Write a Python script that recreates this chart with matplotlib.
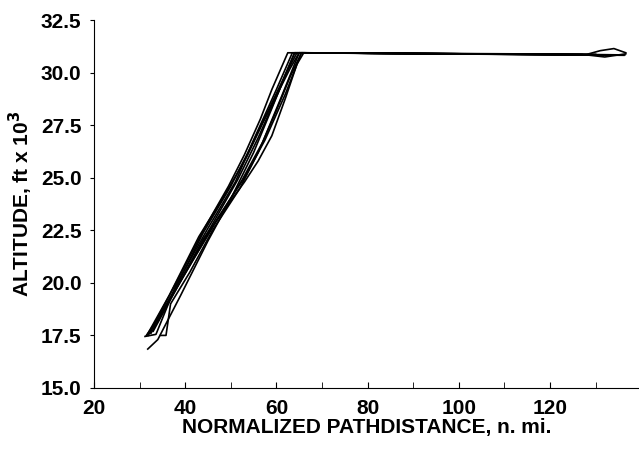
import matplotlib
matplotlib.use("Agg")
import matplotlib.pyplot as plt
from matplotlib.ticker import MultipleLocator

plt.rcParams['font.family'] = ['Liberation Sans', 'DejaVu Sans']
plt.rcParams['font.weight'] = 'bold'

# climb segments of each flight (n. mi., ft x 10^3)
climb_x = [
    [31.2, 33.6, 38.0, 45.0, 51.0, 55.0, 60.0, 63.5],
    [31.5, 35.0, 40.0, 46.0, 51.5, 56.0, 60.5, 64.0],
    [31.8, 34.0, 39.0, 45.0, 50.0, 55.0, 59.0, 62.0, 64.5],
    [34.6, 35.8, 36.8, 41.0, 46.0, 52.0, 56.0, 60.0, 63.0, 65.5],
    [32.0, 36.0, 41.5, 47.0, 52.5, 57.0, 61.0, 65.0],
    [32.5, 37.0, 42.0, 47.5, 53.0, 57.5, 62.0, 65.5],
    [33.0, 38.0, 44.0, 50.0, 53.0, 56.0, 59.0, 62.0, 64.5, 66.0],
    [31.6, 36.5, 43.0, 49.0, 53.5, 57.0, 60.0, 63.0, 65.0],
    [32.2, 37.5, 44.0, 50.0, 54.0, 58.0, 61.5, 64.0],
    [31.9, 38.0, 44.5, 49.5, 53.0, 56.5, 59.0, 62.5],
]
climb_alt = [
    [17.45, 17.55, 19.9, 22.6, 24.8, 26.8, 29.2, 30.95],
    [17.5, 18.6, 20.5, 22.8, 24.9, 26.9, 29.1, 30.95],
    [16.85, 17.3, 19.4, 22.0, 24.0, 26.2, 28.3, 29.9, 30.95],
    [17.5, 17.5, 19.0, 20.5, 22.5, 24.5, 26.2, 28.2, 29.8, 30.95],
    [17.6, 19.0, 21.0, 23.0, 24.9, 26.7, 28.8, 30.95],
    [17.6, 19.3, 21.2, 23.2, 25.0, 26.8, 29.0, 30.95],
    [17.7, 19.7, 22.1, 23.9, 24.8, 25.8, 27.0, 28.8, 30.4, 30.95],
    [17.5, 19.4, 22.2, 24.3, 26.0, 27.6, 28.9, 30.2, 30.95],
    [17.6, 19.6, 22.4, 24.6, 26.3, 28.1, 29.7, 30.95],
    [17.5, 20.0, 22.7, 24.6, 26.1, 27.8, 29.2, 30.95],
]
# cruise segments
cruise_x = [
    [100, 128, 131, 134, 136.6],
    [100, 128, 132, 136.6],
    [136.0],
    [128.5],
    [136.2],
    [130.0],
    [128.0],
    [136.4],
    [127.0],
    [135.5],
]
cruise_alt = [
    [30.9, 30.87, 31.05, 31.15, 30.95],
    [30.9, 30.85, 30.75, 30.9],
    [30.85],
    [30.85],
    [30.83],
    [30.88],
    [30.86],
    [30.85],
    [30.87],
    [30.84],
]

fig = plt.figure(figsize=(6.39, 4.49), dpi=100)
ax = fig.add_axes([0.147, 0.136, 0.853, 0.819])

for cx, ca, kx, ka in zip(climb_x, climb_alt, cruise_x, cruise_alt):
    ax.plot(cx + kx, ca + ka, color='black', lw=1.2)

ax.set_xlim(20, 139.5)
ax.set_ylim(15, 32.5)
ax.xaxis.set_major_locator(MultipleLocator(20))
ax.xaxis.set_minor_locator(MultipleLocator(10))
ax.set_yticks([15.0, 17.5, 20.0, 22.5, 25.0, 27.5, 30.0, 32.5])
ax.set_yticklabels(['15.0', '17.5', '20.0', '22.5', '25.0', '27.5', '30.0', '32.5'])

ax.spines['top'].set_visible(False)
ax.spines['right'].set_visible(False)
ax.tick_params(axis='x', which='both', direction='in', length=4, pad=8, labelsize=15)
ax.tick_params(axis='y', which='both', direction='out', length=3, pad=6, labelsize=15)
for lab in ax.get_xticklabels() + ax.get_yticklabels():
    lab.set_fontweight('bold')

ax.set_xlabel('NORMALIZED PATHDISTANCE, n. mi.', fontsize=15, fontweight='bold', labelpad=0)
ax.set_ylabel(r'ALTITUDE, ft x 10$^\mathbf{3}$', fontsize=15, fontweight='bold', labelpad=4)

fig.savefig('out.png', dpi=100)
